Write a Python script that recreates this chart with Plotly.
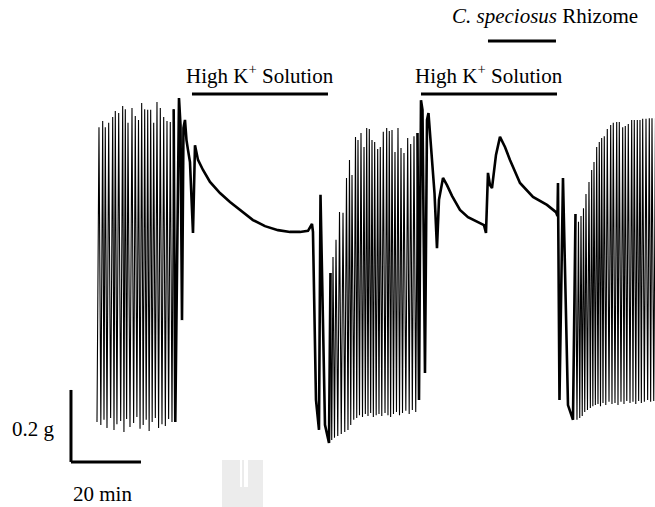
import plotly.graph_objects as go

# ---- Isometric tension recording (time in min, tension in g above baseline) ----

# Spontaneous contractions before the first high-K+ challenge
seg1_peak_t = [0.57, 1.63, 2.37, 3.34, 4.49, 5.23, 6.20, 7.34, 8.09, 8.86, 10.0, 10.94,
               11.86, 12.77, 13.63, 14.49, 15.34, 16.2, 17.14, 18.09, 19.06, 20.0, 20.94, 21.91]
seg1_peak_g = [0.869, 0.886, 0.869, 0.881, 0.897, 0.914, 0.908, 0.928, 0.919, 0.881, 0.922, 0.900,
               0.889, 0.936, 0.919, 0.917, 0.917, 0.881, 0.939, 0.922, 0.897, 0.886, 0.883, 0.919]
seg1_trough_t = [1.1, 2.0, 2.86, 3.9, 4.86, 5.7, 6.77, 7.7, 8.47, 9.43, 10.47, 11.4,
                 12.3, 13.2, 14.06, 14.9, 15.77, 16.67, 17.6, 18.57, 19.53, 20.47, 21.43]
seg1_trough_g = [0.042, 0.056, 0.033, 0.061, 0.028, 0.044, 0.053, 0.022, 0.058, 0.036, 0.047, 0.064,
                 0.031, 0.042, 0.056, 0.025, 0.050, 0.061, 0.033, 0.044, 0.039, 0.058, 0.050]

# First high-K+ contracture and washout
k1_t = [21.91, 22.37, 23.43, 23.86, 24.29, 24.71, 25.14, 25.57, 26.0, 26.57, 27.43, 28.0, 28.86,
        30.29, 32.29, 35.14, 38.0, 40.86, 44.57, 48.0, 51.71, 55.14, 58.0, 60.29, 61.43, 61.71,
        62.57, 63.43, 63.86, 65.14, 66.29, 66.71]
k1_g = [0.919, 0.05, 0.95, 0.875, 0.333, 0.867, 0.889, 0.833, 0.806, 0.772, 0.575, 0.819, 0.778,
        0.75, 0.717, 0.686, 0.661, 0.639, 0.611, 0.594, 0.583, 0.578, 0.578, 0.581, 0.6, 0.578,
        0.111, 0.028, 0.681, 0.042, -0.008, 0.464]

# Recovery of spontaneous contractions
seg2_peak_t = [66.71, 67.43, 68.29, 69.29, 70.29, 71.29, 72.14, 72.86, 73.86, 74.57, 75.43, 76.29,
               77.06, 77.8, 78.57, 79.34, 80.2, 80.94, 81.8, 82.77, 83.51, 84.29, 85.14, 86.0,
               86.86, 87.71, 88.77, 89.63, 90.57, 91.57]
seg2_peak_g = [0.464, 0.508, 0.556, 0.633, 0.631, 0.728, 0.778, 0.736, 0.842, 0.833, 0.853, 0.814,
               0.867, 0.864, 0.833, 0.828, 0.808, 0.814, 0.856, 0.867, 0.858, 0.861, 0.8, 0.867,
               0.811, 0.797, 0.839, 0.822, 0.844, 0.853]
seg2_trough_t = [67.07, 67.86, 68.79, 69.79, 70.79, 71.71, 72.5, 73.36, 74.21, 75.0, 75.86, 76.67,
                 77.43, 78.19, 78.96, 79.77, 80.57, 81.37, 82.29, 83.14, 83.9, 84.71, 85.57, 86.43,
                 87.29, 88.24, 89.2, 90.1, 91.07]
seg2_trough_g = [0.0, 0.006, 0.011, 0.017, 0.022, 0.028, 0.042, 0.056, 0.061, 0.069, 0.064, 0.072,
                 0.067, 0.075, 0.064, 0.069, 0.072, 0.067, 0.075, 0.069, 0.064, 0.072, 0.078, 0.069,
                 0.075, 0.081, 0.072, 0.083, 0.078]

# Second high-K+ contracture with C. speciosus rhizome extract, then washout
k2_t = [91.57, 92.0, 92.57, 93.0, 93.71, 94.29, 94.71, 95.43, 96.43, 97.14, 97.71, 98.86, 100.0,
        101.43, 103.71, 106.0, 108.57, 110.57, 111.14, 111.71, 112.29, 112.86, 114.0, 115.14,
        116.57, 118.0, 120.86, 124.57, 128.57, 131.14, 131.57, 131.71, 132.14, 133.14, 134.57,
        136.0, 136.71]
k2_g = [0.853, 0.111, 0.944, 0.917, 0.186, 0.889, 0.908, 0.806, 0.686, 0.533, 0.667, 0.728, 0.708,
        0.678, 0.639, 0.619, 0.606, 0.597, 0.575, 0.742, 0.708, 0.7, 0.792, 0.842,
        0.814, 0.778, 0.714, 0.675, 0.653, 0.633, 0.622, 0.714, 0.111, 0.728, 0.097,
        0.056, 0.628]

# Recovery after washout
seg4_peak_t = [136.71, 137.57, 138.29, 139.0, 139.71, 140.57, 141.34, 142.0, 142.77, 143.51, 144.2,
               144.94, 145.8, 146.77, 147.51, 148.49, 149.23, 150.2, 150.94, 151.8, 152.77, 153.51,
               154.37, 155.14, 155.91, 156.86, 157.8, 158.57, 159.57]
seg4_peak_g = [0.628, 0.606, 0.622, 0.644, 0.683, 0.717, 0.75, 0.772, 0.814, 0.828, 0.839,
               0.844, 0.864, 0.875, 0.881, 0.883, 0.883, 0.869, 0.872, 0.878, 0.889, 0.889,
               0.889, 0.889, 0.892, 0.892, 0.894, 0.894, 0.894]
seg4_trough_t = [137.14, 137.93, 138.64, 139.36, 140.14, 140.96, 141.67, 142.39, 143.14, 143.86,
                 144.57, 145.37, 146.29, 147.14, 148.0, 148.86, 149.71, 150.57, 151.37, 152.29,
                 153.14, 153.94, 154.76, 155.53, 156.39, 157.33, 158.19, 159.07]
seg4_trough_g = [0.056, 0.061, 0.067, 0.078, 0.083, 0.089, 0.094, 0.097, 0.1, 0.094, 0.103, 0.097,
                 0.106, 0.1, 0.103, 0.097, 0.106, 0.1, 0.108, 0.103, 0.106, 0.1, 0.108, 0.103,
                 0.106, 0.111, 0.106, 0.108]

trace_start = (0.0, 0.05)

# Treatment periods (min) shown as bars above the trace
highk_labels = ["High K<sup>+</sup> Solution", "High K<sup>+</sup> Solution"]
highk_start = [27.14, 92.57]
highk_end = [66.0, 131.43]
extract_label = "<i>C. speciosus</i> Rhizome"
extract_start = 111.71
extract_end = 131.14

# Calibration bars
scale_time_min = 20
scale_force_g = 0.2
scale_origin = (-7.43, -0.061)


def interleave(pt, pg, tt, tg):
    """Merge peak and trough samples into one time-ordered trace."""
    pts = sorted(list(zip(pt, pg)) + list(zip(tt, tg)))
    return [p[0] for p in pts], [p[1] for p in pts]


s1t, s1g = interleave(seg1_peak_t, seg1_peak_g, seg1_trough_t, seg1_trough_g)
s1t = [trace_start[0]] + s1t
s1g = [trace_start[1]] + s1g
s2t, s2g = interleave(seg2_peak_t, seg2_peak_g, seg2_trough_t, seg2_trough_g)
s4t, s4g = interleave(seg4_peak_t, seg4_peak_g, seg4_trough_t, seg4_trough_g)

fig = go.Figure()
for tx, gy, w in [(s1t, s1g, 1.1), (k1_t, k1_g, 2.6), (s2t, s2g, 1.1),
                  (k2_t, k2_g, 2.6), (s4t, s4g, 1.1)]:
    fig.add_trace(go.Scatter(x=tx, y=gy, mode="lines",
                             line=dict(color="black", width=w),
                             hoverinfo="skip", showlegend=False))

serif = "Liberation Serif, Times New Roman, serif"
bar_y = 0.961
for lab, a, b in zip(highk_labels, highk_start, highk_end):
    fig.add_shape(type="line", x0=a, x1=b, y0=bar_y, y1=bar_y,
                  line=dict(color="black", width=3))
    fig.add_annotation(x=(a + b) / 2, y=1.014, text=lab, showarrow=False,
                       font=dict(family=serif, size=21, color="black"))

fig.add_shape(type="line", x0=extract_start, x1=extract_end, y0=1.108, y1=1.108,
              line=dict(color="black", width=3))
fig.add_annotation(x=128.0, y=1.178, text=extract_label, showarrow=False,
                   font=dict(family=serif, size=21, color="black"))

# Calibration: vertical = force, horizontal = time
ox, oy = scale_origin
fig.add_shape(type="line", x0=ox, x1=ox, y0=oy, y1=oy + scale_force_g,
              line=dict(color="black", width=3))
fig.add_shape(type="line", x0=ox, x1=ox + scale_time_min, y0=oy, y1=oy,
              line=dict(color="black", width=3))
fig.add_annotation(x=-18.0, y=0.031, text=f"{scale_force_g} g", showarrow=False,
                   font=dict(family=serif, size=21, color="black"))
fig.add_annotation(x=1.71, y=-0.15, text=f"{scale_time_min} min", showarrow=False,
                   font=dict(family=serif, size=21, color="black"))

# Faint grey mark below the trace
W, H = 655, 507
fig.add_shape(type="rect", xref="paper", yref="paper",
              x0=222 / W, x1=263 / W, y0=0, y1=1 - 460 / H,
              fillcolor="#ececec", line=dict(width=0), layer="below")
fig.add_shape(type="rect", xref="paper", yref="paper",
              x0=240 / W, x1=248 / W, y0=1 - 487 / H, y1=1 - 460 / H,
              fillcolor="white", line=dict(width=0), layer="below")
fig.add_shape(type="line", xref="paper", yref="paper",
              x0=243 / W, x1=243 / W, y0=1 - 487 / H, y1=1 - 460 / H,
              line=dict(color="#d8d8d8", width=1), layer="below")

fig.update_layout(
    width=W, height=H,
    margin=dict(l=0, r=0, t=0, b=0),
    paper_bgcolor="white", plot_bgcolor="white",
    xaxis=dict(range=[-27.71, 159.43], visible=False, fixedrange=True),
    yaxis=dict(range=[-0.1861, 1.2222], visible=False, fixedrange=True),
)

fig.write_html("out.html")
